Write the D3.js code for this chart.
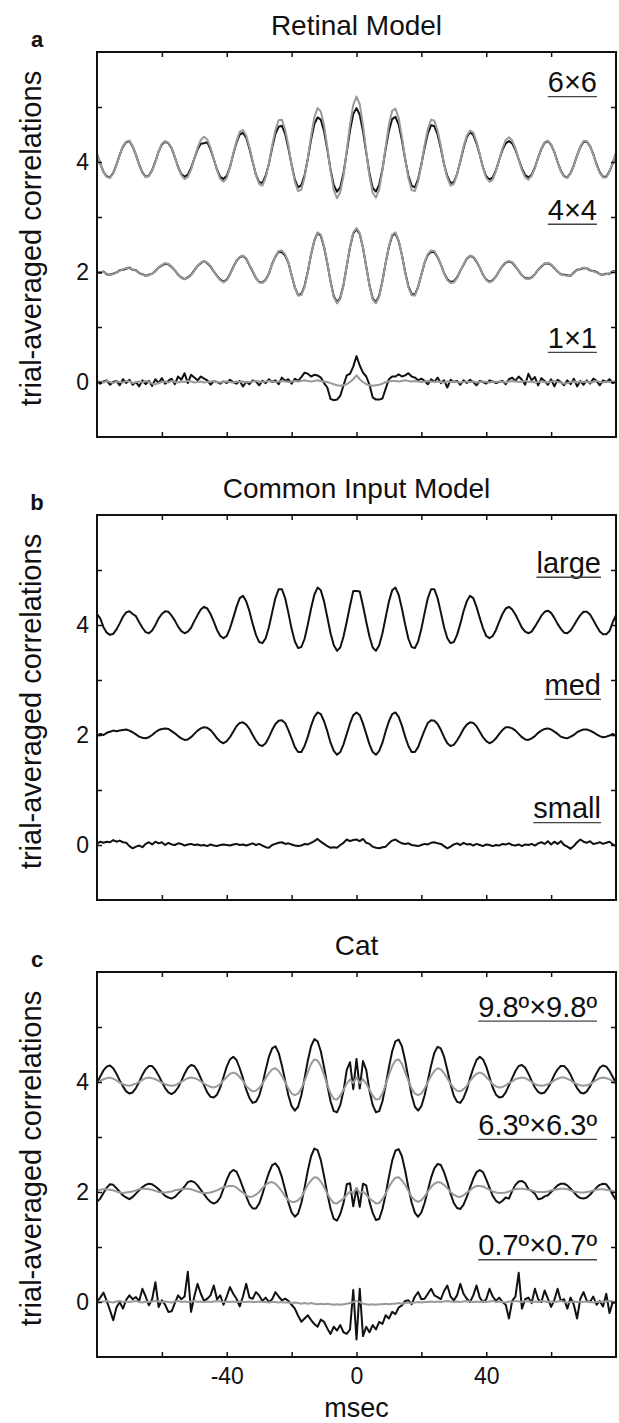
<!DOCTYPE html>
<html lang="en">
<head>
    <meta charset="UTF-8">
    <title>trial-averaged correlations</title>
    <script src="https://cdnjs.cloudflare.com/ajax/libs/d3/7.8.5/d3.min.js"></script>
</head>

<style>
    body { margin: 0; background: #fff; }
    text { font-family: "Liberation Sans", Arial, Helvetica, sans-serif; fill: #111; }
</style>

<body>
<div id="chart"></div>
</body>
</html>

<script>

    // lags in msec, one sample per msec from -80 to 80
    const lagStart = -80;
    const xTicks = [-60, -40, -20, 0, 20, 40, 60];
    const xTickLabels = [-40, 0, 40];
    const yTicks = [0, 1, 2, 3, 4, 5];
    const yTickLabels = [0, 2, 4];

    const panelLetters = ['a', 'b', 'c'];
    const panelTitles = ['Retinal Model', 'Common Input Model', 'Cat'];

    // ---- a: Retinal Model ----
    const retina6Black = [
        4.14,3.97,3.82,3.74,3.72,3.80,3.95,4.13,4.28,4.36, 4.38,4.28,4.13,3.95,3.81,3.73,3.75,3.85,4.01,4.19,
        4.32,4.37,4.34,4.25,4.09,3.91,3.78,3.73,3.77,3.89, 4.06,4.23,4.33,4.34,4.36,4.23,4.05,3.86,3.73,3.69,
        3.75,3.91,4.14,4.35,4.50,4.53,4.44,4.24,4.00,3.77, 3.63,3.62,3.75,3.97,4.26,4.51,4.64,4.66,4.51,4.25,
        3.95,3.68,3.54,3.58,3.76,4.06,4.41,4.69,4.81,4.77, 4.56,4.23,3.86,3.58,3.46,3.54,3.80,4.18,4.57,4.87,
        4.98,4.86,4.56,4.17,3.79,3.53,3.46,3.59,3.87,4.24, 4.57,4.78,4.82,4.68,4.40,4.05,3.75,3.57,3.54,3.69,
        3.96,4.26,4.52,4.67,4.65,4.50,4.25,3.96,3.74,3.62, 3.63,3.78,4.01,4.25,4.45,4.54,4.49,4.34,4.13,3.90,
        3.74,3.68,3.72,3.85,4.04,4.22,4.34,4.38,4.34,4.22, 4.05,3.88,3.76,3.72,3.77,3.90,4.08,4.24,4.35,4.38,
        4.31,4.18,4.00,3.84,3.74,3.72,3.80,3.94,4.12,4.27, 4.37,4.37,4.29,4.14,3.96,3.81,3.73,3.73,3.83,3.98,
        4.16
    ];
    const retina6Gray = [
        4.15,3.97,3.82,3.73,3.71,3.79,3.94,4.13,4.29,4.37, 4.39,4.29,4.13,3.95,3.80,3.72,3.74,3.84,4.00,4.19,
        4.33,4.38,4.35,4.26,4.09,3.90,3.76,3.69,3.73,3.86, 4.06,4.26,4.40,4.46,4.41,4.26,4.05,3.85,3.69,3.64,
        3.71,3.91,4.15,4.38,4.55,4.58,4.48,4.27,4.01,3.76, 3.60,3.57,3.72,3.97,4.30,4.58,4.76,4.77,4.59,4.30,
        3.94,3.64,3.47,3.50,3.72,4.07,4.47,4.81,4.98,4.92, 4.67,4.27,3.84,3.49,3.34,3.45,3.75,4.21,4.68,5.04,
        5.19,5.05,4.67,4.20,3.74,3.44,3.35,3.50,3.85,4.28, 4.68,4.93,4.97,4.80,4.46,4.06,3.71,3.49,3.47,3.65,
        3.95,4.31,4.60,4.77,4.75,4.57,4.29,3.96,3.71,3.57, 3.60,3.77,4.02,4.28,4.48,4.57,4.54,4.37,4.14,3.90,
        3.71,3.64,3.68,3.84,4.04,4.25,4.40,4.45,4.39,4.25, 4.05,3.85,3.72,3.68,3.75,3.89,4.08,4.25,4.36,4.39,
        4.32,4.18,3.99,3.83,3.73,3.71,3.79,3.94,4.12,4.28, 4.38,4.38,4.29,4.13,3.95,3.80,3.72,3.72,3.83,3.98,
        4.17
    ];
    const retina4Black = [
        2.00,1.98,2.01,1.96,1.95,1.97,1.99,2.03,2.04,2.06, 2.08,2.04,2.03,1.98,1.96,1.93,1.95,1.97,2.02,2.08,
        2.12,2.15,2.14,2.09,2.03,1.95,1.90,1.87,1.90,1.95, 2.03,2.11,2.16,2.20,2.16,2.10,2.01,1.93,1.86,1.82,
        1.86,1.96,2.09,2.20,2.27,2.29,2.24,2.12,2.01,1.89, 1.82,1.81,1.86,1.97,2.15,2.28,2.37,2.36,2.30,2.17,
        1.94,1.72,1.58,1.60,1.75,2.01,2.32,2.57,2.71,2.66, 2.45,2.16,1.83,1.56,1.45,1.53,1.77,2.11,2.45,2.70,
        2.78,2.69,2.44,2.10,1.76,1.52,1.45,1.57,1.84,2.17, 2.46,2.66,2.70,2.56,2.31,2.00,1.74,1.60,1.59,1.73,
        1.95,2.17,2.31,2.37,2.36,2.27,2.14,1.98,1.87,1.82, 1.83,1.90,2.02,2.13,2.24,2.29,2.27,2.19,2.08,1.95,
        1.86,1.82,1.85,1.92,2.02,2.11,2.17,2.19,2.17,2.10, 2.02,1.94,1.89,1.88,1.90,1.96,2.04,2.10,2.15,2.16,
        2.13,2.07,2.01,1.96,1.95,1.94,1.93,1.99,2.04,2.05, 2.07,2.07,2.03,2.02,2.00,1.96,1.95,1.97,1.97,2.01,
        2.02
    ];
    const retina4Gray = [
        2.01,1.99,2.00,1.97,1.95,1.96,1.99,2.02,2.05,2.07, 2.07,2.05,2.02,1.99,1.95,1.93,1.94,1.97,2.01,2.08,
        2.13,2.16,2.15,2.10,2.03,1.96,1.89,1.87,1.89,1.94, 2.02,2.11,2.17,2.20,2.17,2.11,2.02,1.92,1.85,1.81,
        1.85,1.95,2.08,2.20,2.28,2.30,2.25,2.13,2.02,1.89, 1.81,1.80,1.85,1.97,2.14,2.28,2.38,2.39,2.32,2.18,
        1.95,1.72,1.57,1.58,1.73,2.00,2.32,2.58,2.72,2.68, 2.47,2.17,1.82,1.54,1.43,1.51,1.76,2.11,2.46,2.72,
        2.80,2.71,2.45,2.10,1.75,1.50,1.43,1.55,1.83,2.17, 2.47,2.68,2.72,2.57,2.31,1.99,1.72,1.58,1.57,1.72,
        1.95,2.18,2.33,2.39,2.38,2.28,2.14,1.97,1.85,1.80, 1.81,1.89,2.02,2.14,2.25,2.30,2.28,2.20,2.08,1.95,
        1.85,1.81,1.84,1.92,2.02,2.12,2.18,2.20,2.18,2.11, 2.02,1.94,1.88,1.87,1.89,1.96,2.04,2.11,2.16,2.17,
        2.14,2.08,2.01,1.96,1.94,1.93,1.94,1.98,2.03,2.06, 2.08,2.07,2.04,2.01,1.99,1.96,1.95,1.96,1.98,2.00,
        2.01
    ];
    const retina1Black = [
        0.02,-0.03,0.01,0.03,-0.05,0.00,0.02,-0.06,0.05,-0.02, 0.04,-0.05,0.00,-0.08,0.03,-0.04,0.02,-0.07,0.05,-0.02,
        0.07,-0.03,0.02,0.06,-0.04,0.10,0.04,0.16,-0.02,0.13, 0.08,0.03,0.10,0.06,0.03,-0.05,0.02,0.00,-0.03,0.01,
        -0.02,0.04,0.00,-0.03,0.02,-0.08,0.00,-0.04,0.03,0.01, -0.06,0.02,-0.02,0.05,0.00,0.03,-0.04,0.08,0.02,0.05,
        -0.03,0.06,0.02,0.09,0.17,0.15,0.10,0.13,0.12,0.08, -0.02,-0.10,-0.31,-0.33,-0.32,-0.25,-0.06,0.12,0.15,0.28,
        0.47,0.30,0.17,0.10,-0.05,-0.28,-0.32,-0.32,-0.30,-0.12, 0.05,0.10,0.10,0.14,0.10,0.12,0.16,0.10,0.08,0.03,
        0.06,0.02,-0.04,0.05,0.00,0.08,-0.02,0.03,-0.10,0.04, 0.00,0.02,-0.05,0.03,-0.02,0.04,0.00,-0.06,0.02,0.00,
        -0.03,0.03,0.01,-0.02,0.00,0.02,-0.04,0.05,0.08,0.02, 0.10,0.04,-0.05,0.15,0.03,0.09,-0.06,0.07,0.02,-0.05,
        0.05,-0.08,0.04,0.00,-0.06,0.03,-0.04,0.06,-0.08,0.02, -0.05,0.03,-0.03,0.06,0.02,-0.06,0.03,0.00,0.05,-0.02,
        0.01
    ];
    const retina1Gray = [
        0.00,0.01,-0.01,0.02,0.00,-0.02,0.01,0.00,-0.01,0.02, 0.01,-0.02,0.00,0.01,-0.01,0.02,0.00,-0.03,-0.04,-0.02,
        0.00,0.01,-0.01,0.02,0.00,-0.01,0.01,0.00,0.02,0.01, -0.01,0.00,0.01,-0.01,0.00,0.01,0.02,0.00,-0.01,0.00,
        0.01,0.00,-0.01,0.01,0.00,0.01,-0.01,0.00,0.01,0.02, 0.01,0.00,0.01,0.02,0.01,0.00,0.01,0.02,0.01,0.00,
        0.01,0.02,0.01,0.02,0.03,0.02,0.01,0.02,0.03,0.02, 0.01,0.00,-0.02,-0.04,-0.06,-0.07,-0.06,-0.04,0.00,0.05,
        0.12,0.05,0.00,-0.04,-0.06,-0.07,-0.06,-0.05,-0.03,0.00, 0.01,0.02,0.02,0.01,0.02,0.03,0.02,0.01,0.02,0.01,
        0.00,0.01,0.02,0.01,0.00,0.01,0.00,-0.01,0.01,0.00, 0.01,0.00,-0.01,0.00,0.01,0.00,0.01,-0.01,0.00,0.01,
        0.00,-0.01,0.01,0.00,0.01,0.00,-0.01,0.01,0.02,0.01, 0.00,0.01,0.02,0.00,0.01,-0.01,0.00,0.01,0.00,-0.01,
        0.01,0.02,0.00,-0.01,-0.03,-0.02,0.00,0.01,-0.01,0.01, 0.00,0.01,-0.01,0.00,0.02,0.00,-0.01,0.01,0.00,0.01,
        0.00
    ];

    // ---- b: Common Input Model ----
    const commonLarge = [
        4.20,4.12,3.96,3.86,3.82,3.84,3.92,4.03,4.15,4.23, 4.25,4.20,4.16,4.05,3.95,3.87,3.85,3.90,4.00,4.12,
        4.20,4.25,4.24,4.17,4.08,3.97,3.89,3.85,3.88,3.95, 4.07,4.18,4.28,4.33,4.30,4.20,4.06,3.91,3.80,3.76,
        3.80,3.94,4.13,4.33,4.49,4.53,4.43,4.25,4.02,3.82, 3.69,3.67,3.76,3.96,4.23,4.49,4.65,4.65,4.49,4.22,
        3.93,3.70,3.58,3.60,3.75,4.01,4.30,4.55,4.68,4.63, 4.43,4.14,3.85,3.63,3.53,3.59,3.79,4.06,4.35,4.62,
        4.62,4.61,4.35,4.06,3.79,3.59,3.53,3.63,3.85,4.14, 4.43,4.63,4.68,4.55,4.30,4.01,3.75,3.60,3.58,3.70,
        3.93,4.22,4.49,4.65,4.65,4.49,4.23,3.96,3.76,3.67, 3.69,3.82,4.02,4.25,4.43,4.53,4.49,4.33,4.13,3.94,
        3.80,3.76,3.80,3.91,4.06,4.20,4.30,4.33,4.28,4.19, 4.07,3.95,3.88,3.85,3.88,3.97,4.07,4.17,4.24,4.26,
        4.22,4.13,4.02,3.93,3.86,3.85,3.90,3.99,4.09,4.18, 4.24,4.24,4.19,4.09,3.98,3.88,3.83,3.83,3.89,4.05,
        4.18
    ];
    const commonMed = [
        1.98,2.02,2.00,2.04,2.06,2.08,2.07,2.08,2.09,2.10, 2.08,2.05,2.01,1.97,1.95,1.94,1.96,2.00,2.05,2.09,
        2.11,2.12,2.11,2.07,2.03,1.98,1.94,1.91,1.92,1.96, 2.02,2.08,2.12,2.14,2.13,2.09,2.02,1.94,1.88,1.85,
        1.89,1.96,2.06,2.16,2.22,2.23,2.19,2.11,2.00,1.90, 1.82,1.80,1.85,1.96,2.09,2.20,2.26,2.27,2.22,2.09,
        1.94,1.78,1.69,1.69,1.80,1.97,2.17,2.33,2.41,2.38, 2.25,2.07,1.86,1.71,1.64,1.69,1.83,2.02,2.21,2.36,
        2.41,2.36,2.21,2.02,1.83,1.69,1.64,1.71,1.86,2.07, 2.25,2.38,2.41,2.33,2.17,1.97,1.80,1.69,1.69,1.78,
        1.94,2.09,2.22,2.27,2.26,2.20,2.09,1.96,1.85,1.80, 1.82,1.90,2.00,2.11,2.19,2.23,2.22,2.16,2.06,1.96,
        1.89,1.85,1.88,1.94,2.02,2.09,2.14,2.14,2.12,2.08, 2.02,1.96,1.92,1.91,1.94,1.98,2.04,2.08,2.11,2.12,
        2.10,2.06,2.02,1.97,1.95,1.94,1.97,2.00,2.05,2.08, 2.10,2.10,2.08,2.05,2.01,1.98,1.96,1.97,1.99,2.02,
        1.98
    ];
    const commonSmall = [
        0.02,0.06,0.04,0.06,0.05,0.09,0.06,0.08,0.05,0.04, -0.02,-0.06,-0.03,-0.01,-0.04,0.02,0.05,0.01,0.06,0.03,
        0.05,0.00,0.04,0.01,0.00,0.03,0.02,-0.01,0.01,0.02, 0.00,0.01,-0.01,0.00,-0.02,0.01,-0.01,-0.02,0.00,0.01,
        0.00,-0.01,0.01,0.02,0.00,0.01,-0.01,0.01,0.03,0.00, 0.02,-0.01,-0.04,-0.05,0.00,0.02,0.04,0.05,0.02,0.03,
        0.01,-0.01,-0.02,-0.01,0.02,0.01,0.04,0.07,0.11,0.06, 0.02,-0.02,-0.05,-0.04,-0.05,0.00,0.04,0.10,0.07,0.09,
        0.10,0.07,0.11,0.04,0.02,-0.03,-0.05,-0.06,-0.04,-0.03, 0.03,0.08,0.10,0.06,0.03,0.02,0.03,0.00,-0.01,-0.02,
        0.00,0.02,0.01,0.04,0.05,0.03,0.02,-0.02,-0.06,-0.03, 0.01,0.03,0.00,0.04,0.01,0.02,-0.01,0.02,0.00,-0.02,
        0.01,0.00,-0.02,0.00,-0.01,0.02,0.01,0.03,0.00,-0.01, 0.01,-0.02,0.01,0.00,0.02,-0.01,0.03,0.05,0.02,0.07,
        0.01,0.06,0.02,0.07,0.00,-0.03,-0.07,-0.02,0.05,0.10, 0.06,0.04,0.07,0.02,0.03,0.05,0.02,0.04,0.06,0.01,
        -0.02
    ];

    // ---- c: Cat ----
    const cat98Black = [
        3.98,4.10,4.21,4.28,4.30,4.25,4.15,4.03,3.92,3.83, 3.79,3.81,3.89,4.00,4.13,4.23,4.29,4.29,4.22,4.12,
        4.00,3.89,3.81,3.78,3.82,3.90,4.02,4.15,4.26,4.31, 4.29,4.20,4.07,3.94,3.81,3.73,3.72,3.77,3.90,4.09,
        4.28,4.41,4.46,4.40,4.25,4.07,3.86,3.71,3.62,3.64, 3.75,3.96,4.22,4.46,4.61,4.65,4.53,4.30,4.03,3.76,
        3.56,3.48,3.55,3.76,4.07,4.39,4.65,4.78,4.74,4.56, 4.27,3.94,3.65,3.47,3.45,3.58,3.84,4.22,4.36,3.87,
        4.42,3.88,4.38,4.22,3.84,3.58,3.45,3.47,3.65,3.94, 4.27,4.56,4.74,4.77,4.65,4.39,4.07,3.76,3.55,3.48,
        3.56,3.76,4.03,4.30,4.53,4.64,4.61,4.46,4.22,3.96, 3.75,3.64,3.62,3.71,3.86,4.07,4.25,4.40,4.46,4.41,
        4.28,4.09,3.90,3.77,3.72,3.73,3.81,3.94,4.07,4.20, 4.29,4.31,4.26,4.15,4.02,3.90,3.82,3.79,3.81,3.89,
        4.00,4.13,4.23,4.29,4.29,4.23,4.13,4.00,3.89,3.81, 3.79,3.83,3.92,4.04,4.16,4.26,4.30,4.28,4.20,4.09,
        3.98
    ];
    const cat98Gray = [
        3.98,4.02,4.05,4.07,4.08,4.06,4.03,3.99,3.96,3.94, 3.93,3.95,3.97,4.00,4.04,4.07,4.08,4.07,4.05,4.02,
        3.99,3.96,3.94,3.93,3.94,3.97,4.00,4.04,4.07,4.08, 4.07,4.05,4.01,3.97,3.94,3.91,3.90,3.92,3.96,4.03,
        4.09,4.15,4.17,4.15,4.09,4.02,3.93,3.87,3.83,3.84, 3.89,3.97,4.07,4.16,4.23,4.25,4.20,4.11,4.00,3.88,
        3.79,3.76,3.79,3.88,4.02,4.18,4.33,4.41,4.39,4.29, 4.13,3.95,3.79,3.69,3.68,3.75,3.86,3.97,4.05,3.98,
        4.08,3.98,4.05,3.97,3.86,3.75,3.68,3.69,3.79,3.95, 4.13,4.29,4.39,4.41,4.33,4.18,4.02,3.88,3.79,3.76,
        3.79,3.88,4.00,4.11,4.20,4.25,4.23,4.16,4.07,3.97, 3.89,3.84,3.83,3.87,3.93,4.02,4.09,4.15,4.17,4.15,
        4.09,4.03,3.96,3.92,3.90,3.91,3.94,3.98,4.01,4.05, 4.07,4.08,4.07,4.04,4.00,3.96,3.94,3.93,3.94,3.96,
        3.99,4.03,4.06,4.08,4.08,4.06,4.03,3.99,3.96,3.94, 3.93,3.94,3.96,4.00,4.04,4.07,4.08,4.07,4.05,4.01,
        3.97
    ];
    const cat63Black = [
        1.82,1.88,1.98,2.08,2.14,2.13,2.07,2.00,1.94,1.90, 1.87,1.91,1.97,2.03,2.09,2.13,2.15,2.14,2.10,2.05,
        1.99,1.93,1.90,1.88,1.91,1.97,2.03,2.10,2.18,2.20, 2.18,2.12,2.04,1.96,1.88,1.82,1.79,1.82,1.90,2.06,
        2.22,2.35,2.40,2.37,2.24,2.08,1.92,1.78,1.70,1.70, 1.79,1.96,2.17,2.35,2.49,2.52,2.44,2.27,2.04,1.81,
        1.63,1.55,1.61,1.80,2.08,2.39,2.65,2.79,2.76,2.58, 2.29,1.97,1.70,1.51,1.48,1.60,1.80,2.14,2.16,1.74,
        2.07,1.73,2.15,2.12,1.82,1.62,1.49,1.51,1.69,1.96, 2.28,2.57,2.75,2.78,2.65,2.39,2.08,1.81,1.62,1.55,
        1.63,1.80,2.03,2.26,2.43,2.51,2.49,2.36,2.18,1.97, 1.80,1.71,1.69,1.77,1.91,2.08,2.24,2.36,2.40,2.36,
        2.23,2.08,1.93,1.84,1.80,1.84,1.90,1.88,2.02,2.13, 2.19,2.20,2.16,2.05,2.02,1.97,1.87,1.88,1.92,1.94,
        2.00,2.06,2.12,2.15,2.15,2.12,2.06,2.00,1.93,1.89, 1.88,1.90,1.95,2.02,2.08,2.13,2.15,2.14,2.06,1.95,
        1.85
    ];
    const cat63Gray = [
        2.02,2.04,2.05,2.05,2.04,2.03,2.01,1.99,1.98,1.99, 2.00,2.01,2.03,2.05,2.06,2.06,2.05,2.04,2.02,2.00,
        1.99,1.99,2.00,2.01,2.03,2.04,2.05,2.06,2.06,2.05, 2.03,2.01,1.99,1.98,1.98,1.99,2.01,2.03,2.06,2.09,
        2.10,2.11,2.11,2.08,2.03,1.99,1.94,1.91,1.92,1.95, 2.00,2.07,2.13,2.17,2.18,2.15,2.09,2.01,1.92,1.85,
        1.82,1.82,1.85,1.91,2.02,2.13,2.21,2.27,2.26,2.19, 2.09,1.97,1.87,1.80,1.79,1.84,1.88,1.95,2.01,1.98,
        2.07,1.98,2.01,1.95,1.88,1.84,1.79,1.80,1.87,1.97, 2.09,2.19,2.26,2.27,2.21,2.13,2.02,1.91,1.85,1.82,
        1.85,1.92,2.01,2.09,2.15,2.18,2.17,2.13,2.07,2.00, 1.95,1.92,1.91,1.94,1.99,2.03,2.08,2.11,2.11,2.10,
        2.07,2.04,2.01,1.99,1.98,1.98,1.99,2.01,2.03,2.05, 2.06,2.06,2.05,2.04,2.03,2.01,2.00,2.00,2.00,2.01,
        2.03,2.04,2.05,2.06,2.06,2.05,2.03,2.01,2.00,1.99, 1.99,2.00,2.01,2.03,2.04,2.05,2.05,2.04,2.03,2.02,
        2.00
    ];
    const cat07Black = [
        0.00,0.08,0.17,0.02,-0.15,-0.33,-0.10,0.00,-0.12,0.04, 0.12,0.05,0.09,0.02,0.24,0.10,-0.06,0.05,0.36,-0.09,
        0.03,-0.05,-0.18,-0.17,-0.02,0.12,0.05,0.10,0.55,-0.18, 0.10,0.33,0.15,0.02,0.06,0.12,0.30,0.05,0.12,-0.05,
        0.10,0.27,0.15,0.06,-0.08,0.10,0.33,0.08,0.06,0.18, 0.12,0.02,0.08,0.00,0.05,0.18,0.10,0.03,0.06,0.02,
        -0.05,-0.12,-0.25,-0.36,-0.30,-0.24,-0.33,-0.40,-0.45,-0.32, -0.36,-0.48,-0.58,-0.45,-0.52,-0.42,-0.55,-0.58,-0.50,0.22,
        -0.68,0.24,-0.62,-0.45,-0.55,-0.42,-0.50,-0.36,-0.40,-0.24, -0.30,-0.18,-0.22,-0.10,-0.06,0.02,0.03,-0.04,0.10,0.18,
        0.05,0.06,0.15,0.24,0.12,0.09,0.05,0.20,0.30,0.10, 0.03,0.12,0.33,0.15,0.06,0.00,0.12,0.30,0.08,0.00,
        0.05,0.24,0.10,0.02,0.08,0.00,-0.05,-0.30,0.02,0.10, 0.53,-0.12,0.05,0.08,-0.02,0.24,0.05,0.00,0.21,0.06,
        -0.09,0.04,0.24,0.02,0.05,-0.12,0.08,-0.05,-0.30,0.06, 0.18,0.02,0.00,0.10,-0.05,0.02,-0.08,0.15,-0.20,0.00,
        -0.02
    ];
    const cat07Gray = [
        0.01,0.00,0.01,0.02,0.00,-0.01,0.01,0.02,0.00,0.01, 0.00,0.01,0.02,0.00,-0.01,0.01,0.00,0.01,0.02,0.01,
        0.00,0.01,0.00,-0.01,0.01,0.02,0.00,0.01,0.00,0.01, 0.02,0.00,0.01,0.00,0.01,0.00,0.01,0.02,0.01,0.00,
        0.01,0.00,0.01,0.00,0.01,0.00,0.00,0.01,0.00,0.00, 0.01,0.00,0.00,-0.01,0.00,0.00,-0.01,0.00,-0.01,-0.01,
        -0.02,-0.01,-0.02,-0.03,-0.02,-0.03,-0.02,-0.03,-0.04,-0.03, -0.04,-0.03,-0.04,-0.05,-0.04,-0.05,-0.04,-0.03,-0.02,0.00,
        0.02,0.00,-0.03,-0.04,-0.05,-0.04,-0.05,-0.04,-0.04,-0.03, -0.04,-0.03,-0.03,-0.02,-0.03,-0.02,-0.01,-0.02,-0.01,0.00,
        -0.01,0.00,0.00,0.01,0.00,0.01,0.00,0.01,0.02,0.01, 0.00,0.01,0.00,0.01,0.02,0.01,0.00,0.01,0.00,0.01,
        0.00,0.01,0.02,0.00,0.01,0.00,-0.01,0.01,0.00,0.02, 0.01,0.00,0.02,0.01,0.00,0.01,0.00,0.02,0.01,0.00,
        0.01,0.00,0.01,0.02,0.00,-0.01,0.00,0.01,0.00,0.01, 0.00,0.01,0.00,-0.01,0.00,0.01,0.00,0.01,0.02,0.01,
        0.00
    ];

    // curve labels and the value where each one sits
    const labelsA = ['6×6', '4×4', '1×1'];
    const labelsB = ['large', 'med', 'small'];
    const labelsC = ['9.8º×9.8º', '6.3º×6.3º', '0.7º×0.7º'];
    const labelValuesA = [5.27, 2.95, 0.62];
    const labelValuesB = [4.95, 2.73, 0.49];
    const labelValuesC = [5.19, 3.04, 0.85];

    const panels = [
        { black: [retina6Black, retina4Black, retina1Black], gray: [retina6Gray, retina4Gray, retina1Gray],
          labels: labelsA, labelValues: labelValuesA, labelRight: 597 },
        { black: [commonLarge, commonMed, commonSmall], gray: [],
          labels: labelsB, labelValues: labelValuesB, labelRight: 601 },
        { black: [cat98Black, cat63Black, cat07Black], gray: [cat98Gray, cat63Gray, cat07Gray],
          labels: labelsC, labelValues: labelValuesC, labelRight: 597 }
    ];

    const width = 619;
    const height = 1423;
    const plotLeft = 97;
    const plotRight = 616;
    const plotHeight = 385;
    const panelTops = [52, 515, 972];

    const svg = d3.select('#chart')
        .append('svg')
        .attr('width', width)
        .attr('height', height);

    const x = d3.scaleLinear().domain([-80, 80]).range([plotLeft, plotRight]);

    panels.forEach(function (panel, p) {
        const top = panelTops[p];
        const y = d3.scaleLinear().domain([-1, 6]).range([top + plotHeight, top]);
        const g = svg.append('g');

        const clipId = 'clip' + p;
        svg.append('clipPath').attr('id', clipId)
            .append('rect')
            .attr('x', plotLeft).attr('y', top)
            .attr('width', plotRight - plotLeft).attr('height', plotHeight);

        const line = d3.line()
            .x(function (d, i) { return x(lagStart + i); })
            .y(function (d) { return y(d); });

        const curves = g.append('g').attr('clip-path', 'url(#' + clipId + ')');

        panel.black.forEach(function (s) {
            curves.append('path').datum(s)
                .attr('d', line)
                .attr('fill', 'none')
                .attr('stroke', '#111')
                .attr('stroke-width', 2)
                .attr('stroke-linejoin', 'round');
        });
        panel.gray.forEach(function (s) {
            curves.append('path').datum(s)
                .attr('d', line)
                .attr('fill', 'none')
                .attr('stroke', '#9a9a9a')
                .attr('stroke-width', 2)
                .attr('stroke-linejoin', 'round');
        });

        // axes, ticks pointing inwards
        const bottomAxis = d3.axisBottom(x).tickValues(xTicks).tickSize(-5).tickPadding(11)
            .tickFormat(function (d) { return (p === 2 && xTickLabels.includes(d)) ? d : ''; });
        const topAxis = d3.axisTop(x).tickValues(xTicks).tickSize(-5).tickFormat('');
        const leftAxis = d3.axisLeft(y).tickValues(yTicks).tickSize(-5).tickPadding(8)
            .tickFormat(function (d) { return yTickLabels.includes(d) ? d : ''; });
        const rightAxis = d3.axisRight(y).tickValues(yTicks).tickSize(-5).tickFormat('');

        const axes = [
            g.append('g').attr('transform', 'translate(0,' + (top + plotHeight) + ')').call(bottomAxis),
            g.append('g').attr('transform', 'translate(0,' + top + ')').call(topAxis),
            g.append('g').attr('transform', 'translate(' + plotLeft + ',0)').call(leftAxis),
            g.append('g').attr('transform', 'translate(' + plotRight + ',0)').call(rightAxis)
        ];
        axes.forEach(function (a) {
            a.select('.domain').remove();
            a.selectAll('line').attr('stroke', '#111').attr('stroke-width', 1.5);
            a.selectAll('text')
                .attr('font-size', 23)
                .attr('fill', '#111')
                .style('font-family', '"Liberation Sans", Arial, Helvetica, sans-serif');
        });

        g.append('rect')
            .attr('x', plotLeft).attr('y', top)
            .attr('width', plotRight - plotLeft).attr('height', plotHeight)
            .attr('fill', 'none')
            .attr('stroke', '#111')
            .attr('stroke-width', 2);

        // title, panel letter, y label
        g.append('text')
            .attr('x', (plotLeft + plotRight) / 2).attr('y', top - 17)
            .attr('text-anchor', 'middle')
            .attr('font-size', 28)
            .text(panelTitles[p]);

        g.append('text')
            .attr('x', 37).attr('y', top - 5)
            .attr('text-anchor', 'middle')
            .attr('font-size', 22)
            .attr('font-weight', 'bold')
            .text(panelLetters[p]);

        g.append('text')
            .attr('transform', 'translate(41,' + (top + plotHeight / 2 - 6) + ') rotate(-90)')
            .attr('text-anchor', 'middle')
            .attr('font-size', 29)
            .text('trial-averaged correlations');

        // underlined curve labels
        panel.labels.forEach(function (lab, k) {
            const ly = y(panel.labelValues[k]);
            const t = g.append('text')
                .attr('x', panel.labelRight).attr('y', ly)
                .attr('text-anchor', 'end')
                .attr('font-size', 29)
                .text(lab);
            const w = t.node().getComputedTextLength();
            g.append('line')
                .attr('x1', panel.labelRight - w).attr('x2', panel.labelRight)
                .attr('y1', ly + 4.5)
                .attr('y2', ly + 4.5)
                .attr('stroke', '#444')
                .attr('stroke-width', 1.3);
        });
    });

    svg.append('text')
        .attr('x', (plotLeft + plotRight) / 2).attr('y', 1417)
        .attr('text-anchor', 'middle')
        .attr('font-size', 27)
        .text('msec');

</script>
